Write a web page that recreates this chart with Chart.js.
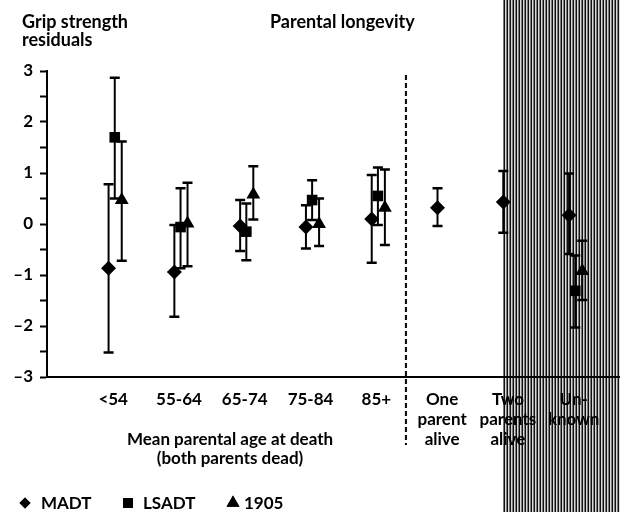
<!DOCTYPE html>
<html>
<head>
<meta charset="utf-8">
<script src="https://cdn.jsdelivr.net/npm/chart.js@4.4.1/dist/chart.umd.min.js"></script>
<style>
  html, body { margin: 0; padding: 0; background: #fff; }
  canvas { display: block; }
</style>
</head>
<body>
<canvas id="chart" width="620" height="512"></canvas>
<script>
// categories along the x axis (multi-line tick labels)
const categories = [
  ["<54"], ["55-64"], ["65-74"], ["75-84"], ["85+"],
  ["One", "parent", "alive"], ["Two", "parents", "alive"], ["Un-", "known"]
];

// MADT (diamonds)
const madtMean = [-0.87, -0.94, -0.04, -0.06, 0.10, 0.32, 0.43, 0.17];
const madtLow  = [-2.52, -1.82, -0.53, -0.48, -0.76, -0.04, -0.17, -0.59];
const madtHigh = [0.78, -0.02, 0.47, 0.37, 0.96, 0.70, 1.04, 0.99];

// LSADT (squares)
const lsadtMean = [1.70, -0.06, -0.15, 0.47, 0.55, null, null, -1.31];
const lsadtLow  = [0.50, -0.87, -0.71, 0.08, -0.02, null, null, -2.03];
const lsadtHigh = [2.87, 0.70, 0.40, 0.86, 1.11, null, null, -0.62];

// 1905 cohort (triangles)
const c1905Mean = [0.47, 0.01, 0.58, 0.00, 0.32, null, null, -0.92];
const c1905Low  = [-0.72, -0.83, 0.09, -0.43, -0.41, null, null, -1.49];
const c1905High = [1.62, 0.81, 1.13, 0.50, 1.07, null, null, -0.33];

const yTicks = [-3, -2, -1, 0, 1, 2, 3];

const FONT = "Lato, 'Open Sans', sans-serif";
Chart.defaults.font.family = FONT;
Chart.defaults.font.size = 17;
Chart.defaults.font.weight = "bold";
Chart.defaults.color = "#000";

function points(mean, low, high, shift) {
  return mean
    .map((m, i) => (m == null ? null : { x: i + shift, y: m, lo: low[i], hi: high[i] }))
    .filter(Boolean);
}

const errorBars = {
  id: "errorBars",
  beforeDatasetsDraw(chart) {
    const ctx = chart.ctx;
    const ys = chart.scales.y;
    ctx.save();
    ctx.strokeStyle = "#000";
    chart.data.datasets.forEach((ds, d) => {
      const meta = chart.getDatasetMeta(d);
      meta.data.forEach((pt, i) => {
        const p = ds.data[i];
        const top = ys.getPixelForValue(p.hi);
        const bot = ys.getPixelForValue(p.lo);
        ctx.lineWidth = 2;
        ctx.beginPath();
        ctx.moveTo(pt.x, top);
        ctx.lineTo(pt.x, bot);
        ctx.stroke();
        ctx.lineWidth = 2.5;
        ctx.beginPath();
        ctx.moveTo(pt.x - 5, top); ctx.lineTo(pt.x + 5, top);
        ctx.moveTo(pt.x - 5, bot); ctx.lineTo(pt.x + 5, bot);
        ctx.stroke();
      });
    });
    ctx.restore();
  }
};

// shaded "unknown" band + dashed divider
const decor = {
  id: "decor",
  beforeDraw(chart) {
    const ctx = chart.ctx;
    const xs = chart.scales.x;
    const tile = document.createElement("canvas");
    tile.width = 3; tile.height = 1;
    const t = tile.getContext("2d");
    t.fillStyle = "#111"; t.fillRect(0, 0, 1, 1);
    t.fillStyle = "#d8d8d8"; t.fillRect(1, 0, 1, 1);
    t.fillStyle = "#7a7a7a"; t.fillRect(2, 0, 1, 1);
    const x0 = Math.round(xs.getPixelForValue(6.0));
    ctx.save();
    ctx.fillStyle = ctx.createPattern(tile, "repeat");
    ctx.fillRect(x0, 0, chart.width - x0, chart.height);
    ctx.restore();
  },
  afterDraw(chart) {
    const ctx = chart.ctx;
    const xs = chart.scales.x;
    ctx.save();
    // divider
    const xd = xs.getPixelForValue(4.52);
    ctx.strokeStyle = "#000";
    ctx.lineWidth = 2;
    ctx.setLineDash([5, 3]);
    ctx.beginPath();
    ctx.moveTo(xd, 75);
    ctx.lineTo(xd, 445);
    ctx.stroke();
    ctx.setLineDash([]);

    ctx.fillStyle = "#000";
    ctx.font = "bold 18px " + FONT;
    ctx.textBaseline = "alphabetic";
    ctx.textAlign = "left";
    ctx.fillText("Grip strength", 22, 28);
    ctx.fillText("residuals", 22, 46);
    ctx.fillText("Parental longevity", 270, 28);

    ctx.font = "bold 17px " + FONT;
    ctx.textAlign = "center";
    ctx.fillText("Mean parental age at death", 230, 445);
    ctx.fillText("(both parents dead)", 230, 464);

    // legend
    const items = [["rectRot", 5.5, 25, "MADT", 41], ["rect", 7, 128, "LSADT", 143], ["triangle", 7.5, 233, "1905", 244]];
    ctx.textAlign = "left";
    items.forEach(([style, r, cx, label, tx]) => {
      Chart.helpers.drawPoint(ctx, { pointStyle: style, radius: r, rotation: 0, borderWidth: 0 }, cx, 503);
      ctx.fill();
      ctx.fillText(label, tx, 509);
    });
    ctx.restore();
  }
};

new Chart(document.getElementById("chart"), {
  type: "scatter",
  data: {
    datasets: [
      { label: "MADT", data: points(madtMean, madtLow, madtHigh, 0), pointStyle: "rectRot", pointRadius: 7.5 },
      { label: "LSADT", data: points(lsadtMean, lsadtLow, lsadtHigh, 0.094), pointStyle: "rect", pointRadius: 7.5 },
      { label: "1905", data: points(c1905Mean, c1905Low, c1905High, 0.2), pointStyle: "triangle", pointRadius: 8 }
    ].map(ds => Object.assign(ds, {
      backgroundColor: "#000", borderColor: "#000", borderWidth: 0, pointHoverRadius: ds.pointRadius
    }))
  },
  options: {
    responsive: false,
    animation: false,
    devicePixelRatio: 1,
    layout: { autoPadding: false, padding: { top: 71, right: 0, left: 0, bottom: 0 } },
    plugins: { legend: { display: false }, tooltip: { enabled: false } },
    scales: {
      x: {
        type: "linear",
        min: -0.936,
        max: 7.774,
        afterFit(s) { s.height = 135; },
        afterBuildTicks(s) { s.ticks = categories.map((c, i) => ({ value: i + 0.07 })); },
        grid: { display: false },
        border: { display: true, color: "#000", width: 2 },
        ticks: {
          autoSkip: false,
          maxRotation: 0,
          padding: 4,
          font: { size: 17, weight: "bold", lineHeight: 1.18 },
          callback: (v, i) => categories[i]
        }
      },
      y: {
        min: -3,
        max: 3,
        afterFit(s) { s.width = 47; },
        afterBuildTicks(s) {
          const t = [];
          yTicks.forEach((v, i) => { t.push({ value: v }); if (i < yTicks.length - 1) t.push({ value: v + 0.5 }); });
          s.ticks = t;
        },
        grid: { drawOnChartArea: false, drawTicks: true, tickLength: 7, tickWidth: 2, tickColor: "#000" },
        border: { display: true, color: "#000", width: 2 },
        ticks: {
          padding: 7,
          font: { size: 17, weight: "bold" },
          callback: v => (Number.isInteger(v) ? (v < 0 ? "\u2013" + Math.abs(v) : String(v)) : "")
        }
      }
    }
  },
  plugins: [errorBars, decor]
});
</script>
</body>
</html>
